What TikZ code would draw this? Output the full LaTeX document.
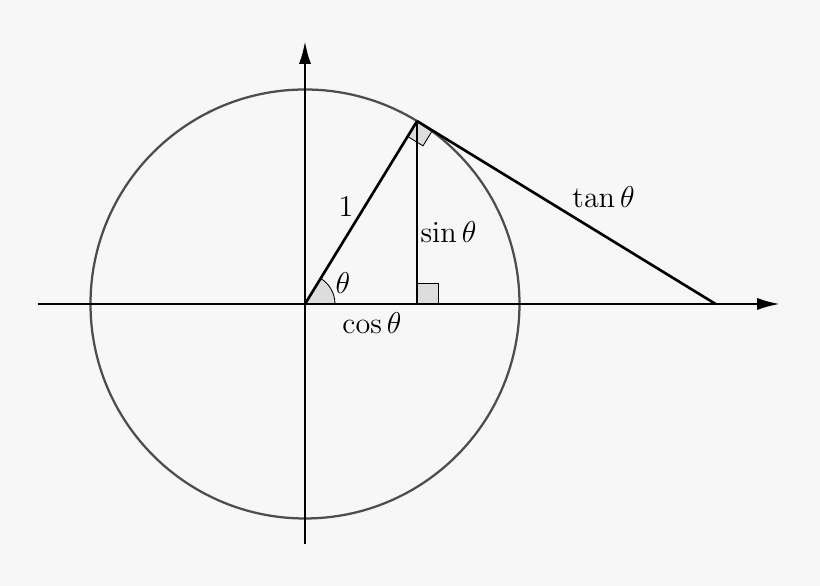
\documentclass[tikz,border=0pt]{standalone}
\usetikzlibrary{arrows.meta,calc}
\definecolor{bgc}{RGB}{247,247,247}
\definecolor{circc}{RGB}{77,77,77}
\definecolor{markc}{RGB}{221,221,221}
\begin{document}
\begin{tikzpicture}[x=0.014cm,y=0.014cm,
  axisline/.style={line width=1.05pt,black,-{Latex[length=0.32cm,width=0.17cm]}},
  mainline/.style={line width=1.05pt,black},
  circline/.style={line width=0.9pt,circc},
  markbox/.style={fill=markc,draw=black,line width=0.35pt},
  lbl/.style={inner sep=0pt,anchor=center,font=\fontsize{12.4}{15}\selectfont}]
\fill[bgc] (-305,-282) rectangle (515,304);
\useasboundingbox (-305,-282) rectangle (515,304);
\def\th{58.5}
\def\R{214.5}
\coordinate (O) at (0,0);
\coordinate (P) at ({\R*cos(\th)},{\R*sin(\th)});
\coordinate (F) at ({\R*cos(\th)},0);
\coordinate (T) at ({\R/cos(\th)},0);
\coordinate (xl) at (-267,0);
\coordinate (xr) at (475,0);
\coordinate (yb) at (0,-240);
\coordinate (yt) at (0,263);
\coordinate (PA) at ($(P)!0.252cm!(O)$);
\coordinate (PB) at ($(P)!0.252cm!(T)$);
\coordinate (PC) at ($(PA)+(PB)-(P)$);
% angle sector
\filldraw[markbox] (O) -- (30,0) arc (0:\th:30) -- cycle;
% right angle marks
\filldraw[markbox] (F) rectangle ++(21,21);
\filldraw[markbox] (P) -- (PA) -- (PC) -- (PB) -- cycle;
% circle
\draw[circline] (O) circle (\R);
% axes
\draw[axisline] (xl) -- (xr);
\draw[axisline] (yb) -- (yt);
% triangle
\draw[mainline] (O) -- (P);
\draw[mainline] (P) -- (F);
\draw[mainline] (P) -- (T);
% labels
\node[lbl] (l1) at (41,97) {$1$};
\node[lbl] (ls) at (143.5,72) {$\sin\theta$};
\node[lbl] (lt) at (38,21) {$\theta$};
\node[lbl] (lc) at (67,-19) {$\cos\theta$};
\node[lbl] (ltan) at (298.5,107) {$\tan\theta$};
\end{tikzpicture}
\end{document}
